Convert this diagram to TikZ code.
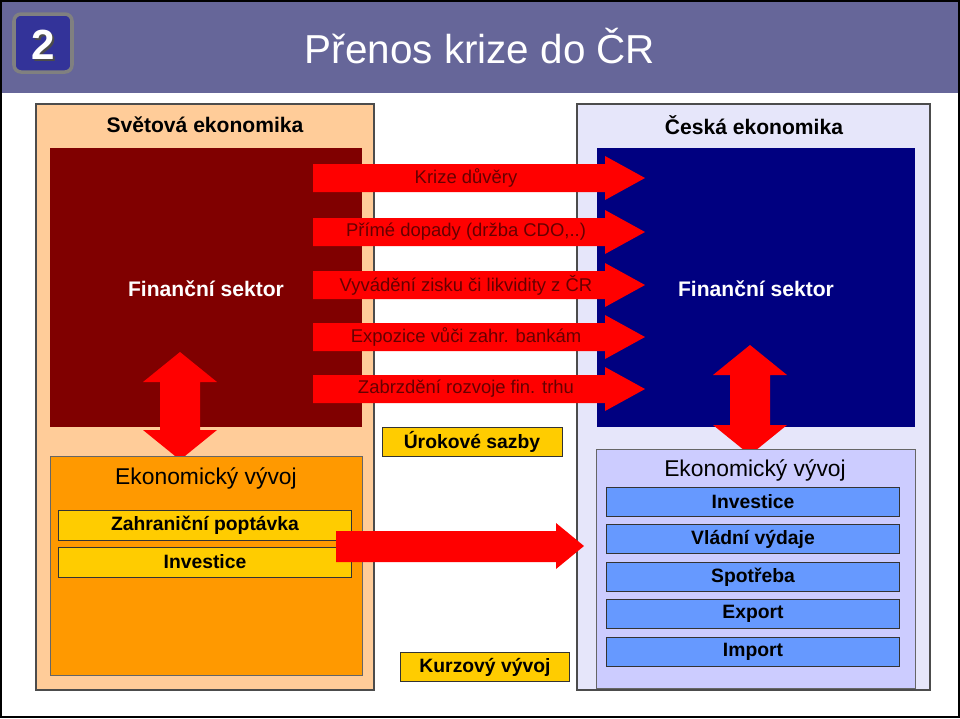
\documentclass[tikz,border=0pt]{standalone}
\usepackage{fontspec}
\setmainfont{Liberation Sans}
\usetikzlibrary{positioning}
\definecolor{header}{HTML}{666699}
\definecolor{badge}{HTML}{333399}
\definecolor{peach}{HTML}{FFCC99}
\definecolor{lavender}{HTML}{E6E6FA}
\definecolor{darkred}{HTML}{800000}
\definecolor{navy}{HTML}{000080}
\definecolor{orangebox}{HTML}{FF9900}
\definecolor{goldbox}{HTML}{FFCC00}
\definecolor{bluebox}{HTML}{6699FF}
\definecolor{lilac}{HTML}{CCCCFF}
\definecolor{arrowred}{HTML}{FF0000}
\definecolor{arrowtext}{HTML}{660000}
\tikzset{
  panel/.style={draw=black!70, line width=0.6pt},
  heading/.style={font=\bfseries\fontsize{12}{14}\selectfont},
  itembox/.style={draw=black!80, line width=0.5pt, inner sep=0pt, font=\bfseries\fontsize{11}{13}\selectfont},
  flowtext/.style={text=arrowtext, font=\fontsize{10.5}{12}\selectfont},
}
\begin{document}
\begin{tikzpicture}[x=0.02cm, y=-0.02cm]
    \useasboundingbox (0,0) rectangle (960,718);
    % Header band and frame
    \fill[header] (0,0) rectangle (960,93);
    \draw[black, line width=0.8pt] (1,1) rectangle (959,717);
    \draw[rounded corners=4pt, fill=badge, draw=gray, line width=2pt] (14,14) rectangle (72,72);
    \node[text=black!70, font=\bfseries\fontsize{24}{26}\selectfont] at (45,47) {2};
    \node (badge) [text=white, font=\bfseries\fontsize{24}{26}\selectfont] at (43,45) {2};
    \node (title) [text=white, font=\fontsize{23}{26}\selectfont] at (480,46) {Přenos krize do ČR};
    % Panels
    \draw[panel, fill=peach] (36,104) rectangle (374,690);
    \draw[panel, fill=lavender] (577,104) rectangle (930,690);
    \node (world) [heading] at (205,125) {Světová ekonomika};
    \node (czech) [heading] at (754,125) {Česká ekonomika};
    \fill[darkred] (50,148) rectangle (362,427);
    \fill[navy] (597,148) rectangle (915,427);
    \node (finL) [text=white, heading] at (206,289) {Finanční sektor};
    \node (finR) [text=white, heading] at (756,289) {Finanční sektor};
    % Transmission arrows
    \foreach \yy/\txt in {178/Krize důvěry, 232/{Přímé dopady (držba CDO,..)},
        285/Vyvádění zisku či likvidity z ČR, 337/Expozice vůči zahr. bankám,
        389/Zabrzdění rozvoje fin. trhu} {
      \fill[arrowred] (313,\yy-14) -- (605,\yy-14) -- (605,\yy-22) -- (645,\yy)
        -- (605,\yy+22) -- (605,\yy+14) -- (313,\yy+14) -- cycle;
      \node[flowtext] at (466,\yy) {\txt};
    }
    % Vertical double arrows
    \foreach \xx/\ya/\yb in {180/352/460, 750/345/455} {
      \fill[arrowred] (\xx,\ya) -- (\xx+37,\ya+30) -- (\xx+20,\ya+30) -- (\xx+20,\yb-30)
        -- (\xx+37,\yb-30) -- (\xx,\yb) -- (\xx-37,\yb-30) -- (\xx-20,\yb-30)
        -- (\xx-20,\ya+30) -- (\xx-37,\ya+30) -- cycle;
    }
    % Left economy
    \draw[draw=black!60, fill=orangebox] (50,456) rectangle (362,675);
    \node (ecoL) [font=\fontsize{13}{15}\selectfont] at (206,478) {Ekonomický vývoj};
    \node (demand) [itembox, fill=goldbox, minimum width=293*0.02cm, minimum height=30*0.02cm] at (205,525) {Zahraniční poptávka};
    \node (investL) [itembox, fill=goldbox, minimum width=293*0.02cm, minimum height=30*0.02cm] at (205,562) {Investice};
    % Middle
    \node (rates) [itembox, fill=goldbox, minimum width=180*0.02cm, minimum height=29*0.02cm] at (472,442) {Úrokové sazby};
    \node (fx) [itembox, fill=goldbox, minimum width=169*0.02cm, minimum height=29*0.02cm] at (485,667) {Kurzový vývoj};
    \fill[arrowred] (336,531) -- (556,531) -- (556,523) -- (584,546) -- (556,569)
      -- (556,562) -- (336,562) -- cycle;
    % Right economy
    \draw[draw=black!60, fill=lilac] (596,449) rectangle (915,688);
    \node (ecoR) [font=\fontsize{13}{15}\selectfont] at (755,470) {Ekonomický vývoj};
    \foreach \yy/\txt/\nm in {502/Investice/investR, 539/Vládní výdaje/gov,
        577/Spotřeba/cons, 614/Export/exp, 652/Import/imp} {
      \node (\nm) [itembox, fill=bluebox, minimum width=293*0.02cm, minimum height=29*0.02cm] at (753,\yy) {\txt};
    }
\end{tikzpicture}
\end{document}
